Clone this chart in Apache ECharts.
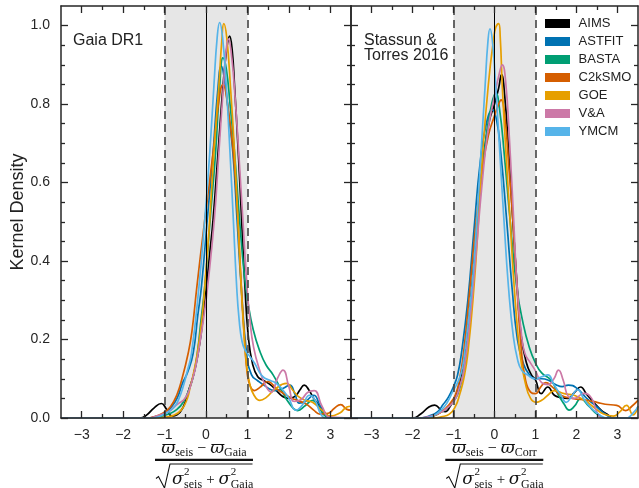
<!DOCTYPE html>
<html><head><meta charset="utf-8">
<script src="https://cdn.jsdelivr.net/npm/echarts@6/dist/echarts.min.js"></script>
<style>html,body{margin:0;padding:0;background:#fff}#c{width:639px;height:488px}</style>
</head><body><div id="c"></div>
<script>
// ---------------- data ----------------
const seriesNames = ['AIMS','ASTFIT','BASTA','C2kSMO','GOE','V&A','YMCM'];
const seriesColors = ['#000000','#0072B2','#009E73','#D55E00','#E69F00','#CC79A7','#56B4E9'];
const xTicksMajor = [-3,-2,-1,0,1,2,3];
const xTicksMinor = [-2.5,-1.5,-0.5,0.5,1.5,2.5];
const yTicksMajor = [0,0.2,0.4,0.6,0.8,1.0];
const yTicksMinor = [0.05,0.1,0.15,0.25,0.3,0.35,0.45,0.5,0.55,0.65,0.7,0.75,0.85,0.9,0.95];
const panelTitles = ['Gaia DR1','Stassun &\nTorres 2016'];
const bandEdges = [-1, 1];

// Panel 1: Gaia DR1
const aimsGaia = [[-3.5,0],[-1.6,0],[-1.45,0.006],[-1.25,0.026],[-1.08,0.037],[-0.95,0.022],[-0.82,0.005],[-0.7,0.008],[-0.55,0.028],[-0.42,0.07],[-0.3,0.11],[-0.19,0.165],[-0.1,0.23],[0.01,0.335],[0.1,0.43],[0.17,0.505],[0.29,0.675],[0.41,0.845],[0.5,0.94],[0.57,0.973],[0.63,0.94],[0.69,0.845],[0.78,0.675],[0.86,0.505],[0.94,0.335],[1.02,0.21],[1.12,0.14],[1.25,0.105],[1.4,0.095],[1.55,0.085],[1.7,0.07],[1.85,0.055],[2.0,0.05],[2.15,0.055],[2.27,0.072],[2.37,0.084],[2.48,0.072],[2.6,0.05],[2.75,0.03],[2.9,0.01],[3.05,0],[3.5,0]];
const astfitGaia = [[-3.5,0],[-1.4,0],[-1.2,0.004],[-1.0,0.012],[-0.85,0.026],[-0.7,0.05],[-0.57,0.088],[-0.45,0.115],[-0.31,0.165],[-0.2,0.26],[-0.11,0.335],[0.03,0.505],[0.17,0.675],[0.28,0.83],[0.37,0.897],[0.45,0.86],[0.55,0.77],[0.65,0.675],[0.75,0.505],[0.85,0.335],[0.98,0.165],[1.1,0.11],[1.25,0.095],[1.45,0.08],[1.65,0.07],[1.85,0.075],[2.02,0.084],[2.15,0.06],[2.25,0.038],[2.4,0.042],[2.6,0.058],[2.75,0.032],[2.9,0.006],[3.05,0],[3.5,0]];
const bastaGaia = [[-3.5,0],[-1.3,0],[-1.1,0.004],[-0.9,0.01],[-0.7,0.022],[-0.55,0.04],[-0.4,0.075],[-0.3,0.11],[-0.21,0.165],[-0.12,0.25],[-0.03,0.335],[0.1,0.505],[0.23,0.675],[0.33,0.845],[0.41,0.918],[0.49,0.89],[0.58,0.8],[0.69,0.675],[0.81,0.505],[0.93,0.36],[1.02,0.29],[1.14,0.225],[1.3,0.17],[1.45,0.135],[1.62,0.11],[1.8,0.075],[2.02,0.036],[2.21,0.019],[2.4,0.032],[2.57,0.045],[2.72,0.028],[2.9,0.003],[3.05,0],[3.5,0]];
const c2kGaia = [[-3.5,0],[-1.4,0],[-1.2,0.005],[-1.0,0.015],[-0.85,0.03],[-0.7,0.06],[-0.58,0.1],[-0.43,0.165],[-0.34,0.22],[-0.22,0.335],[-0.03,0.505],[0.17,0.675],[0.3,0.8],[0.41,0.85],[0.52,0.8],[0.66,0.675],[0.77,0.505],[0.85,0.34],[0.93,0.2],[1.0,0.11],[1.08,0.078],[1.17,0.07],[1.3,0.078],[1.49,0.093],[1.7,0.075],[2.02,0.053],[2.2,0.045],[2.41,0.036],[2.6,0.02],[2.75,0.01],[2.95,0.012],[3.1,0.025],[3.25,0.034],[3.4,0.022],[3.5,0.02]];
const goeGaia = [[-3.5,0],[-1.2,0],[-1.0,0.002],[-0.8,0.006],[-0.6,0.02],[-0.45,0.05],[-0.38,0.08],[-0.3,0.115],[-0.21,0.165],[-0.1,0.25],[-0.03,0.335],[0.09,0.505],[0.19,0.675],[0.31,0.845],[0.38,0.96],[0.43,1.005],[0.5,0.97],[0.59,0.845],[0.69,0.675],[0.77,0.505],[0.85,0.335],[0.92,0.21],[0.98,0.135],[1.05,0.09],[1.15,0.06],[1.3,0.045],[1.45,0.052],[1.65,0.072],[1.94,0.088],[2.1,0.07],[2.25,0.053],[2.4,0.045],[2.57,0.04],[2.8,0.02],[3.0,0.005],[3.23,0.013],[3.4,0.028],[3.5,0.03]];
const vaGaia = [[-3.5,0],[-1.35,0],[-1.2,0.005],[-1.0,0.012],[-0.88,0.018],[-0.75,0.03],[-0.65,0.038],[-0.55,0.045],[-0.45,0.06],[-0.35,0.09],[-0.25,0.13],[-0.15,0.19],[-0.05,0.26],[0.04,0.335],[0.2,0.505],[0.31,0.675],[0.42,0.845],[0.49,0.94],[0.54,0.966],[0.61,0.93],[0.7,0.82],[0.8,0.66],[0.89,0.505],[0.99,0.335],[1.06,0.25],[1.15,0.18],[1.3,0.12],[1.45,0.08],[1.58,0.066],[1.72,0.1],[1.86,0.122],[2.0,0.08],[2.13,0.042],[2.3,0.047],[2.45,0.065],[2.61,0.07],[2.8,0.03],[3.0,0.002],[3.5,0]];
const ymcmGaia = [[-3.5,0],[-1.3,0],[-1.1,0.005],[-0.9,0.016],[-0.75,0.03],[-0.65,0.05],[-0.55,0.08],[-0.45,0.12],[-0.35,0.165],[-0.17,0.335],[-0.03,0.505],[0.09,0.675],[0.19,0.845],[0.27,0.97],[0.33,1.008],[0.4,0.97],[0.49,0.845],[0.58,0.675],[0.66,0.505],[0.74,0.335],[0.8,0.25],[0.87,0.195],[0.95,0.172],[1.05,0.158],[1.17,0.14],[1.33,0.11],[1.45,0.1],[1.57,0.095],[1.7,0.088],[1.85,0.072],[2.0,0.05],[2.17,0.02],[2.32,0.032],[2.5,0.058],[2.62,0.048],[2.78,0.008],[2.9,0],[3.5,0]];

// Panel 2: Stassun & Torres 2016
const aimsST = [[-3.5,0],[-2.0,0],[-1.8,0.01],[-1.6,0.028],[-1.46,0.033],[-1.3,0.02],[-1.2,0.016],[-1.08,0.03],[-0.95,0.055],[-0.85,0.09],[-0.75,0.15],[-0.62,0.26],[-0.5,0.4],[-0.38,0.55],[-0.25,0.68],[-0.12,0.76],[0.0,0.8],[0.1,0.84],[0.17,0.875],[0.25,0.82],[0.35,0.67],[0.45,0.5],[0.55,0.34],[0.65,0.21],[0.78,0.14],[0.9,0.11],[1.0,0.097],[1.14,0.062],[1.3,0.079],[1.46,0.058],[1.62,0.052],[1.78,0.05],[1.95,0.065],[2.1,0.079],[2.25,0.06],[2.42,0.04],[2.6,0.02],[2.74,0.01],[2.9,0],[3.5,0]];
const astfitST = [[-3.5,0],[-1.8,0],[-1.6,0.005],[-1.4,0.015],[-1.25,0.035],[-1.12,0.054],[-1.0,0.08],[-0.9,0.11],[-0.8,0.17],[-0.65,0.3],[-0.5,0.48],[-0.35,0.65],[-0.2,0.75],[-0.05,0.785],[0.05,0.76],[0.15,0.68],[0.3,0.5],[0.43,0.33],[0.56,0.2],[0.7,0.14],[0.85,0.11],[1.0,0.1],[1.15,0.1],[1.3,0.097],[1.5,0.085],[1.65,0.08],[1.8,0.084],[2.02,0.075],[2.25,0.05],[2.5,0.028],[2.7,0.01],[2.9,0],[3.5,0]];
const bastaST = [[-3.5,0],[-1.7,0],[-1.5,0.005],[-1.3,0.015],[-1.1,0.03],[-0.95,0.05],[-0.85,0.075],[-0.75,0.12],[-0.65,0.2],[-0.5,0.38],[-0.35,0.58],[-0.2,0.72],[-0.07,0.8],[0.03,0.828],[0.12,0.79],[0.24,0.67],[0.38,0.505],[0.54,0.335],[0.7,0.24],[0.85,0.18],[1.0,0.14],[1.15,0.115],[1.39,0.095],[1.55,0.06],[1.7,0.035],[1.82,0.02],[1.95,0.03],[2.1,0.049],[2.3,0.03],[2.5,0.01],[2.7,0],[3.5,0]];
const c2kST = [[-3.5,0],[-1.7,0],[-1.5,0.005],[-1.3,0.015],[-1.1,0.035],[-0.95,0.06],[-0.85,0.1],[-0.75,0.17],[-0.6,0.33],[-0.45,0.5],[-0.3,0.63],[-0.15,0.72],[0.0,0.77],[0.1,0.8],[0.16,0.811],[0.25,0.77],[0.35,0.64],[0.45,0.5],[0.55,0.33],[0.65,0.18],[0.75,0.1],[0.88,0.066],[1.0,0.062],[1.12,0.078],[1.25,0.09],[1.4,0.08],[1.62,0.058],[1.9,0.05],[2.26,0.045],[2.5,0.04],[2.7,0.035],[2.98,0.032],[3.2,0.019],[3.35,0.03],[3.5,0.045]];
const goeST = [[-3.5,0],[-1.5,0],[-1.3,0.003],[-1.1,0.01],[-0.95,0.03],[-0.85,0.06],[-0.75,0.1],[-0.65,0.165],[-0.5,0.335],[-0.39,0.505],[-0.29,0.675],[-0.15,0.85],[-0.03,0.96],[0.03,0.995],[0.1,1.005],[0.14,0.97],[0.19,0.845],[0.28,0.675],[0.38,0.505],[0.48,0.335],[0.62,0.165],[0.75,0.09],[0.88,0.05],[1.02,0.04],[1.15,0.045],[1.3,0.058],[1.46,0.07],[1.7,0.062],[1.94,0.058],[2.2,0.045],[2.45,0.025],[2.66,0.01],[2.9,0.005],[3.05,0.015],[3.22,0.032],[3.38,0.008],[3.5,0.03]];
const vaST = [[-3.5,0],[-1.8,0],[-1.73,0.001],[-1.5,0.006],[-1.3,0.015],[-1.1,0.03],[-0.95,0.05],[-0.85,0.08],[-0.75,0.12],[-0.6,0.25],[-0.45,0.42],[-0.3,0.6],[-0.15,0.74],[0.0,0.82],[0.1,0.87],[0.19,0.9],[0.27,0.86],[0.37,0.7],[0.47,0.5],[0.55,0.335],[0.65,0.22],[0.74,0.165],[0.88,0.14],[1.0,0.12],[1.15,0.09],[1.3,0.085],[1.45,0.1],[1.56,0.122],[1.68,0.095],[1.8,0.055],[1.95,0.05],[2.18,0.063],[2.37,0.05],[2.5,0.015],[2.65,0],[3.5,0]];
const ymcmST = [[-3.5,0],[-1.7,0],[-1.5,0.005],[-1.3,0.02],[-1.15,0.04],[-1.0,0.071],[-0.9,0.09],[-0.8,0.12],[-0.73,0.165],[-0.55,0.335],[-0.43,0.505],[-0.33,0.675],[-0.23,0.845],[-0.16,0.96],[-0.11,0.992],[-0.05,0.96],[0.03,0.845],[0.13,0.675],[0.23,0.505],[0.34,0.335],[0.46,0.207],[0.56,0.15],[0.66,0.122],[0.8,0.11],[1.0,0.1],[1.15,0.105],[1.3,0.11],[1.45,0.085],[1.62,0.058],[1.75,0.04],[1.88,0.055],[2.02,0.072],[2.2,0.045],[2.38,0.023],[2.6,0.005],[2.74,0],[3.2,0],[3.4,0.015],[3.5,0.03]];

const panelData = [
  [aimsGaia, astfitGaia, bastaGaia, c2kGaia, goeGaia, vaGaia, ymcmGaia],
  [aimsST, astfitST, bastaST, c2kST, goeST, vaST, ymcmST]
];

// ---------------- layout / style ----------------
const AX = '#262626';
const LBL = '#262626';
const SANS = '"Liberation Sans", Arial, sans-serif';
const grids = [
  {left: 61, top: 6, width: 290, height: 412},
  {left: 351, top: 6, width: 287, height: 412}
];
const fmtX = v => (v < 0 ? '\u2212' + (-v) : String(v));

function xAxes(gi) {
  const base = {type: 'value', gridIndex: gi, min: -3.5, max: 3.5, interval: 0.5,
    splitLine: {show: false}, z: 5};
  const line = {show: true, onZero: false, lineStyle: {color: AX, width: 1.5}};
  const noLine = {show: false, onZero: false};
  const tl = {color: AX, width: 1.3};
  return [
    Object.assign({}, base, {position: 'bottom', axisLine: line,
      axisTick: {show: true, inside: true, length: 7, customValues: xTicksMajor, lineStyle: tl},
      axisLabel: {show: true, customValues: xTicksMajor, formatter: fmtX, fontSize: 14,
        color: LBL, margin: 10, fontFamily: SANS}}),
    Object.assign({}, base, {position: 'bottom', axisLine: noLine,
      axisTick: {show: true, inside: true, length: 4, customValues: xTicksMinor, lineStyle: tl},
      axisLabel: {show: false}}),
    Object.assign({}, base, {position: 'top', axisLine: line,
      axisTick: {show: true, inside: true, length: 7, customValues: xTicksMajor, lineStyle: tl},
      axisLabel: {show: false}}),
    Object.assign({}, base, {position: 'top', axisLine: noLine,
      axisTick: {show: true, inside: true, length: 4, customValues: xTicksMinor, lineStyle: tl},
      axisLabel: {show: false}})
  ];
}
function yAxes(gi, labels) {
  const base = {type: 'value', gridIndex: gi, min: 0, max: 1.05, interval: 0.05,
    splitLine: {show: false}, z: 5};
  const line = {show: true, onZero: false, lineStyle: {color: AX, width: 1.5}};
  const noLine = {show: false, onZero: false};
  const tl = {color: AX, width: 1.3};
  return [
    Object.assign({}, base, {position: 'left', axisLine: line,
      axisTick: {show: true, inside: true, length: 7, customValues: yTicksMajor, lineStyle: tl},
      axisLabel: {show: labels, customValues: yTicksMajor, formatter: v => v.toFixed(1),
        fontSize: 14, color: LBL, margin: 11, fontFamily: SANS}}),
    Object.assign({}, base, {position: 'left', axisLine: noLine,
      axisTick: {show: true, inside: true, length: 4, customValues: yTicksMinor, lineStyle: tl},
      axisLabel: {show: false}}),
    Object.assign({}, base, {position: 'right', axisLine: line,
      axisTick: {show: true, inside: true, length: 7, customValues: yTicksMajor, lineStyle: tl},
      axisLabel: {show: false}}),
    Object.assign({}, base, {position: 'right', axisLine: noLine,
      axisTick: {show: true, inside: true, length: 4, customValues: yTicksMinor, lineStyle: tl},
      axisLabel: {show: false}})
  ];
}

const series = [];
for (let gi = 0; gi < 2; gi++) {
  series.push({
    type: 'line', name: '_band' + gi, xAxisIndex: gi * 4, yAxisIndex: gi * 4,
    data: [[0, -1]], showSymbol: false, lineStyle: {opacity: 0}, z: 1, silent: true,
    markArea: {silent: true, itemStyle: {color: '#e6e6e6'},
      data: [[{xAxis: bandEdges[0]}, {xAxis: bandEdges[1]}]]},
    markLine: {silent: true, symbol: ['none', 'none'], label: {show: false},
      data: [
        {xAxis: bandEdges[0], lineStyle: {type: [8, 5], color: '#444', width: 1.6}},
        {xAxis: bandEdges[1], lineStyle: {type: [8, 5], color: '#444', width: 1.6}},
        {xAxis: 0, lineStyle: {type: 'solid', color: '#000', width: 1}}
      ]}
  });
  seriesNames.forEach((nm, k) => {
    series.push({
      type: 'line', name: nm, xAxisIndex: gi * 4, yAxisIndex: gi * 4,
      data: panelData[gi][k], smooth: 0.5,
      showSymbol: false, symbol: 'none', clip: true, z: 2,
      lineStyle: {color: seriesColors[k], width: 1.7},
      itemStyle: {color: seriesColors[k]}
    });
  });
}

// ---------------- math axis titles ----------------
const mctx = document.createElement('canvas').getContext('2d');
const MI = '"DejaVu Serif"';
const MR = '"Liberation Serif"';
function tw(t, size, fam, italic) {
  mctx.font = (italic ? 'italic ' : '') + size + 'px ' + fam;
  return mctx.measureText(t).width;
}
function tEl(t, x, base, size, fam, italic) {
  return {type: 'text', x: x, y: base - 0.3 * size, silent: true, z: 10,
    style: {text: t, fontSize: size, fontFamily: fam, fontStyle: italic ? 'italic' : 'normal',
      fill: '#111', textAlign: 'left', textVerticalAlign: 'middle', align: 'left', verticalAlign: 'middle'}};
}
function layoutRow(tokens, startX, base) {
  const els = [];
  let x = startX;
  tokens.forEach(tk => {
    if (tk.sup !== undefined) {
      const w1 = tw(tk.sup, 11, MR, false), w2 = tw(tk.sub, 12, MR, false);
      els.push(tEl(tk.sup, x + 0.5, base - 10, 11, MR, false));
      els.push(tEl(tk.sub, x + 0.5, base + 3.5, 12, MR, false));
      x += Math.max(w1, w2) + 1;
    } else {
      els.push(tEl(tk.t, x, base + (tk.dy || 0), tk.s, tk.f, tk.it));
      x += tw(tk.t, tk.s, tk.f, tk.it);
    }
  });
  return {els: els, width: x - startX};
}
function rowWidth(tokens) { return layoutRow(tokens, 0, 0).width; }

function fraction(L, numTokens) {
  const els = [];
  const barW = 98;
  const cx = L + barW / 2;
  const nw = rowWidth(numTokens);
  els.push(...layoutRow(numTokens, cx - nw / 2, 453.5).els);
  els.push({type: 'line', silent: true, z: 10,
    shape: {x1: L, y1: 459.8, x2: L + barW, y2: 459.8}, style: {stroke: '#111', lineWidth: 2.2}});
  els.push({type: 'polyline', silent: true, z: 10,
    shape: {points: [[L + 1, 478.5], [L + 3.5, 476.5], [L + 9.5, 488], [L + 15, 464], [L + barW - 0.5, 464]]},
    style: {stroke: '#111', lineWidth: 1.1, fill: null}});
  const den = [
    {t: '\u03c3', s: 17, f: MI, it: true},
    {sup: '2', sub: 'seis'},
    {t: ' + ', s: 15, f: MR, it: false},
    {t: '\u03c3', s: 17, f: MI, it: true},
    {sup: '2', sub: 'Gaia'}
  ];
  const dw = rowWidth(den);
  const dStart = L + 17 + Math.max(0, (barW - 19 - dw) / 2);
  els.push(...layoutRow(den, dStart, 485).els);
  return els;
}
const numGaia = [
  {t: '\u03d6', s: 17, f: MI, it: true}, {t: 'seis', s: 12, f: MR, it: false, dy: 3.3},
  {t: ' \u2212 ', s: 16, f: MR, it: false},
  {t: '\u03d6', s: 17, f: MI, it: true}, {t: 'Gaia', s: 12, f: MR, it: false, dy: 3.3}
];
const numCorr = [
  {t: '\u03d6', s: 17, f: MI, it: true}, {t: 'seis', s: 12, f: MR, it: false, dy: 3.3},
  {t: ' \u2212 ', s: 16, f: MR, it: false},
  {t: '\u03d6', s: 17, f: MI, it: true}, {t: 'Corr', s: 12, f: MR, it: false, dy: 3.3}
];

const graphics = [];
graphics.push(...fraction(155, numGaia));
graphics.push(...fraction(445.3, numCorr));
graphics.push({type: 'text', x: 18, y: 212, rotation: Math.PI / 2, silent: true,
  style: {text: 'Kernel Density', fontSize: 18, fontFamily: SANS, fill: '#222',
    textAlign: 'center', textVerticalAlign: 'middle', align: 'center', verticalAlign: 'middle'}});
graphics.push({type: 'text', x: 73, y: 41, silent: true, z: 10,
  style: {text: panelTitles[0], fontSize: 16, fontFamily: SANS, fill: '#222',
    textAlign: 'left', textVerticalAlign: 'middle', align: 'left', verticalAlign: 'middle'}});
graphics.push({type: 'text', x: 364, y: 48, silent: true, z: 10,
  style: {text: panelTitles[1], fontSize: 16, lineHeight: 14.2, fontFamily: SANS, fill: '#222',
    textAlign: 'left', textVerticalAlign: 'middle', align: 'left', verticalAlign: 'middle'}});

const chart = echarts.init(document.getElementById('c'), null, {renderer: 'canvas'});
chart.setOption({
  animation: false,
  color: seriesColors,
  grid: grids,
  xAxis: [...xAxes(0), ...xAxes(1)],
  yAxis: [...yAxes(0, true), ...yAxes(1, false)],
  legend: {
    data: seriesNames, orient: 'vertical', left: 545, top: 17, icon: 'rect',
    itemWidth: 25, itemHeight: 9, itemGap: 5, selectedMode: false, padding: 0,
    formatter: n => ' ' + n,
    textStyle: {fontSize: 13, lineHeight: 13, color: '#222', fontFamily: SANS}
  },
  series: series,
  graphic: {elements: graphics}
});
</script></body></html>
